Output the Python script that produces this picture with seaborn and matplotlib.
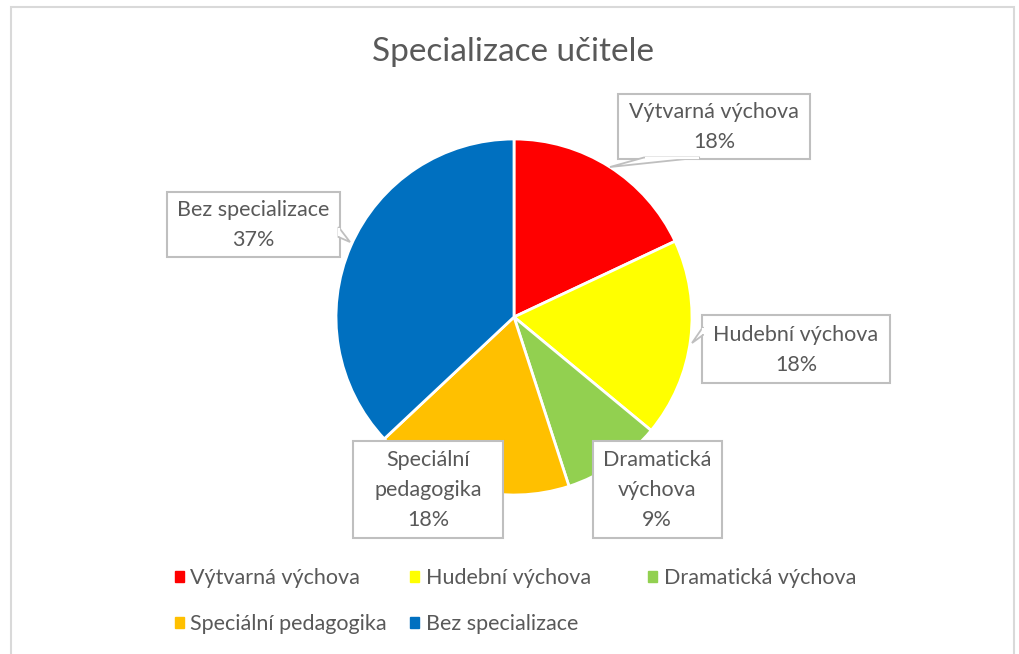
import matplotlib
matplotlib.use("Agg")
import matplotlib.pyplot as plt
from matplotlib.patches import Rectangle, Polygon
import seaborn as sns

# data
categories = ["Výtvarná výchova", "Hudební výchova", "Dramatická výchova",
              "Speciální pedagogika", "Bez specializace"]
box_labels = ["Výtvarná výchova", "Hudební výchova", "Dramatická\nvýchova",
              "Speciální\npedagogika", "Bez specializace"]
shares = [18, 18, 9, 18, 37]
colors = ["#FF0000", "#FFFF00", "#92D050", "#FFC000", "#0070C0"]

sns.set_theme(style="white")
plt.rcParams["font.family"] = ["Lato", "DejaVu Sans"]
txt = "#595959"
fs = 15.5

W, H = 1019, 654
fig = plt.figure(figsize=(W / 100, H / 100), dpi=100)

# outer chart border (bottom edge runs off the image)
fig.patches.append(Rectangle((11 / W, -0.02), 1003 / W, (H - 7) / H + 0.02,
                             transform=fig.transFigure, fill=False,
                             edgecolor="#d9d9d9", linewidth=1.5))

# pie axes in pixel-like units around centre (514, 317)
cx, cy, half = 514, 317, 200
ax = fig.add_axes([(cx - half) / W, (H - cy - half) / H, 2 * half / W, 2 * half / H])
ax.pie(shares, colors=colors, startangle=90, counterclock=False, radius=178,
       wedgeprops=dict(edgecolor="white", linewidth=2))
ax.set_xlim(-half, half)
ax.set_ylim(-half, half)
ax.set_aspect("equal")
ax.axis("off")

# data label boxes (centre offsets in px from pie centre)
pos = [(200, 191), (282, -32), (143, -172), (-86, -172), (-261, 93)]
box_w = [192, 188, 129, 150, 173]
box_h = [65, 68, 97, 97, 65]
for lab, v, (x, y), bw, bh in zip(box_labels, shares, pos, box_w, box_h):
    ax.add_patch(Rectangle((x - bw / 2, y - bh / 2), bw, bh, facecolor="white",
                           edgecolor="#bfbfbf", linewidth=1.5, clip_on=False, zorder=3))
    ax.text(x, y - 1, f"{lab}\n{v}%", ha="center", va="center", fontsize=fs,
            color=txt, linespacing=1.6, zorder=5, clip_on=False)

# callout tails (base on box edge, tip towards slice)
tails = [
    [(130, 159.5), (96, 150), (186, 159.5)],
    [(189, -10), (178, -26), (189, -18)],
    [(-175.5, 90), (-164, 75), (-175.5, 80)],
]
for t in tails:
    ax.add_patch(Polygon(t, closed=True, facecolor="white", edgecolor="#bfbfbf",
                         linewidth=1.3, clip_on=False, zorder=4))
# hide tail edge on the box border
cover = [((131, 159.5), (185, 159.5)), ((189, -11), (189, -17)), ((-175.5, 89), (-175.5, 81))]
for (a, b) in cover:
    ax.plot([a[0], b[0]], [a[1], b[1]], color="white", linewidth=1.6, zorder=4.5,
            clip_on=False, solid_capstyle="butt")

fig.text(513 / W, 1 - 52 / H, "Specializace učitele", ha="center", va="center",
         fontsize=24, color=txt)

# legend: one legend per column, row-wise order as in the original
handles = [Rectangle((0, 0), 1, 1, color=c) for c in colors]
columns = [([0, 3], 175, 601), ([1, 4], 410, 601), ([2], 648, 578)]
for idx, xm, ym in columns:
    leg = fig.legend([handles[i] for i in idx], [categories[i] for i in idx],
                     loc="center left", bbox_to_anchor=(xm / W, 1 - ym / H),
                     frameon=False, fontsize=fs, labelcolor=txt, borderpad=0,
                     borderaxespad=0, handlelength=0.42, handleheight=0.42,
                     handletextpad=0.3, labelspacing=1.19)

fig.savefig("out.png", dpi=100)
